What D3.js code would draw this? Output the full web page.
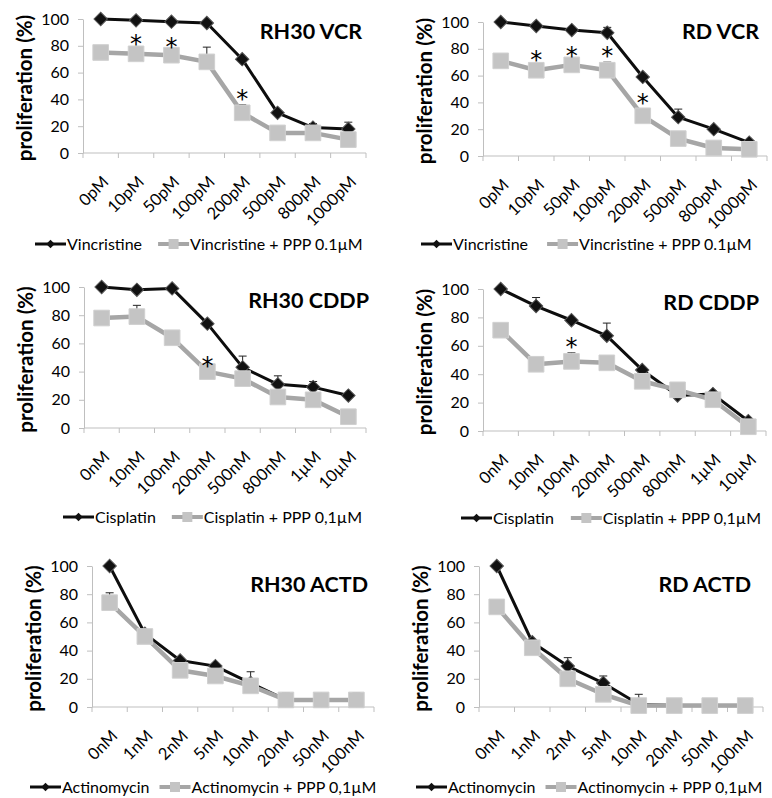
<!DOCTYPE html>
<html>
<head>
<meta charset="utf-8">
<script src="https://cdn.jsdelivr.net/npm/d3@7"></script>
<style>
  body { margin: 0; background: #fff; }
  svg { display: block; font-family: Lato, "Open Sans", sans-serif; }
</style>
</head>
<body>
<svg id="fig" width="772" height="798"></svg>
<script>
// dose labels
var vcrDoses = ["0pM", "10pM", "50pM", "100pM", "200pM", "500pM", "800pM", "1000pM"];
var cddpDoses = ["0nM", "10nM", "100nM", "200nM", "500nM", "800nM", "1µM", "10µM"];
var actdDoses = ["0nM", "1nM", "2nM", "5nM", "10nM", "20nM", "50nM", "100nM"];
var yTicks = [0, 20, 40, 60, 80, 100];

// RH30 VCR
var rh30Vcr = [100, 99, 98, 97, 70, 30, 19, 18];
var rh30VcrErr = [0, 0, 0, 0, 0, 0, 3, 5];
var rh30VcrPpp = [75, 74, 73, 68, 30, 15, 15, 10];
var rh30VcrPppErr = [0, 3, 2, 11, 6, 0, 0, 0];
var rh30VcrStars = ["10pM", "50pM", "200pM"];

// RD VCR
var rdVcr = [100, 97, 94, 92, 59, 29, 20, 10];
var rdVcrErr = [0, 0, 0, 4, 0, 6, 0, 0];
var rdVcrPpp = [71, 64, 68, 64, 30, 13, 6, 5];
var rdVcrPppErr = [0, 3, 2, 6, 5, 0, 0, 0];
var rdVcrStars = ["10pM", "50pM", "100pM", "200pM"];

// RH30 CDDP
var rh30Cddp = [100, 98, 99, 74, 43, 31, 29, 23];
var rh30CddpErr = [0, 0, 0, 0, 8, 6, 4, 0];
var rh30CddpPpp = [78, 79, 64, 40, 35, 22, 20, 8];
var rh30CddpPppErr = [0, 8, 0, 0, 0, 0, 0, 0];
var rh30CddpStars = ["200nM"];

// RD CDDP
var rdCddp = [100, 88, 78, 67, 43, 25, 26, 7];
var rdCddpErr = [0, 6, 0, 9, 0, 0, 0, 0];
var rdCddpPpp = [71, 47, 49, 48, 35, 29, 22, 3];
var rdCddpPppErr = [0, 0, 6, 0, 0, 0, 0, 0];
var rdCddpStars = ["100nM"];

// RH30 ACTD
var rh30Actd = [100, 52, 33, 29, 17, 5, 5, 5];
var rh30ActdErr = [0, 0, 0, 0, 8, 5, 0, 5];
var rh30ActdPpp = [74, 50, 26, 22, 15, 5, 5, 5];
var rh30ActdPppErr = [7, 0, 0, 0, 0, 0, 0, 0];

// RD ACTD
var rdActd = [100, 46, 29, 17, 2, 1, 1, 1];
var rdActdErr = [0, 0, 6, 5, 7, 0, 0, 0];
var rdActdPpp = [71, 42, 20, 9, 1, 1, 1, 1];
var rdActdPppErr = [0, 0, 0, 0, 0, 0, 0, 0];

var panels = [
  { title: "RH30 VCR", doses: vcrDoses, drug: "Vincristine", ppp: "Vincristine + PPP 0.1µM",
    a: rh30Vcr, aErr: rh30VcrErr, b: rh30VcrPpp, bErr: rh30VcrPppErr, stars: rh30VcrStars,
    x0: 83, x1: 366, yTop: 19, yBot: 153, titleX: 362, titleY: 39, legX: 35, legY: 244, legGap: 16 },
  { title: "RD VCR", doses: vcrDoses, drug: "Vincristine", ppp: "Vincristine + PPP 0.1µM",
    a: rdVcr, aErr: rdVcrErr, b: rdVcrPpp, bErr: rdVcrPppErr, stars: rdVcrStars,
    x0: 483, x1: 767, yTop: 22, yBot: 156, titleX: 759, titleY: 39, legX: 421, legY: 244, legGap: 19 },
  { title: "RH30 CDDP", doses: cddpDoses, drug: "Cisplatin", ppp: "Cisplatin + PPP 0,1µM",
    a: rh30Cddp, aErr: rh30CddpErr, b: rh30CddpPpp, bErr: rh30CddpPppErr, stars: rh30CddpStars,
    x0: 84, x1: 366, yTop: 287, yBot: 428, titleX: 369, titleY: 308, legX: 63, legY: 517, legGap: 16 },
  { title: "RD CDDP", doses: cddpDoses, drug: "Cisplatin", ppp: "Cisplatin + PPP 0,1µM",
    a: rdCddp, aErr: rdCddpErr, b: rdCddpPpp, bErr: rdCddpPppErr, stars: rdCddpStars,
    x0: 483, x1: 766, yTop: 289, yBot: 431, titleX: 759, titleY: 310, legX: 461, legY: 518, legGap: 17 },
  { title: "RH30 ACTD", doses: actdDoses, drug: "Actinomycin", ppp: "Actinomycin + PPP 0,1µM",
    a: rh30Actd, aErr: rh30ActdErr, b: rh30ActdPpp, bErr: rh30ActdPppErr, stars: [],
    x0: 92, x1: 374, yTop: 566, yBot: 707, titleX: 368, titleY: 592, legX: 30, legY: 787, legGap: 10 },
  { title: "RD ACTD", doses: actdDoses, drug: "Actinomycin", ppp: "Actinomycin + PPP 0,1µM",
    a: rdActd, aErr: rdActdErr, b: rdActdPpp, bErr: rdActdPppErr, stars: [],
    x0: 479, x1: 763, yTop: 566, yBot: 707, titleX: 751, titleY: 592, legX: 416, legY: 787, legGap: 10 }
];

var axisColor = "#bfbfbf",
  blackLine = "#0d0d0d",
  grayLine = "#a6a6a6",
  grayFill = "#c4c4c4",
  textColor = "#000";

var svg = d3.select("#fig");
var diamond = d3.symbol().type(d3.symbolSquare).size(90);
var square = d3.symbol().type(d3.symbolSquare).size(245);

panels.forEach(function (p) {
  var g = svg.append("g");
  var x = d3.scaleBand().domain(p.doses).range([p.x0, p.x1]).padding(0);
  var y = d3.scaleLinear().domain([0, 100]).range([p.yBot, p.yTop]);
  var cx = function (d) { return x(d) + x.bandwidth() / 2; };

  // y axis
  var yAxis = g.append("g")
    .attr("transform", "translate(" + p.x0 + ",0)")
    .call(d3.axisLeft(y).tickValues(yTicks).tickSize(5).tickPadding(9).tickSizeOuter(0));
  yAxis.select(".domain").attr("stroke", axisColor);
  yAxis.selectAll(".tick line").attr("stroke", axisColor);
  yAxis.selectAll(".tick text").attr("font-size", 16).attr("fill", textColor)
    .attr("font-family", "Lato, sans-serif");

  // x axis, ticks sit on the category edges
  g.append("line")
    .attr("x1", p.x0).attr("x2", p.x1)
    .attr("y1", y(0)).attr("y2", y(0))
    .attr("stroke", axisColor);
  g.selectAll(".xtick")
    .data(p.doses.concat(["end"]))
    .enter().append("line")
    .attr("x1", function (d) { return d === "end" ? p.x1 : x(d); })
    .attr("x2", function (d) { return d === "end" ? p.x1 : x(d); })
    .attr("y1", y(0)).attr("y2", y(0) + 5)
    .attr("stroke", axisColor);
  g.selectAll(".xlab")
    .data(p.doses)
    .enter().append("text")
    .attr("transform", function (d) {
      return "translate(" + (cx(d) + 9) + "," + (y(0) + 30) + ") rotate(-45)";
    })
    .attr("text-anchor", "end")
    .attr("font-size", 16.5)
    .attr("fill", textColor)
    .text(function (d) { return d; });

  // y label
  g.append("text")
    .attr("transform", "translate(" + (p.x0 - 51) + "," + ((p.yTop + p.yBot) / 2 + 2) + ") rotate(-90)")
    .attr("text-anchor", "middle")
    .attr("font-size", 20.5)
    .attr("font-weight", "bold")
    .attr("fill", textColor)
    .text("proliferation (%)");

  // title
  g.append("text")
    .attr("x", p.titleX).attr("y", p.titleY)
    .attr("text-anchor", "end")
    .attr("font-size", 21.5)
    .attr("font-weight", "bold")
    .attr("fill", textColor)
    .text(p.title);

  var series = [
    { vals: p.a, errs: p.aErr, color: blackLine, width: 3 },
    { vals: p.b, errs: p.bErr, color: grayLine, width: 4.5 }
  ];

  // error bars, upper half only
  series.forEach(function (s) {
    var eb = g.selectAll(null)
      .data(p.doses.filter(function (d, i) { return s.errs[i] > 0; }))
      .enter().append("g");
    var top = function (d) { var i = p.doses.indexOf(d); return y(s.vals[i] + s.errs[i]); };
    eb.append("line")
      .attr("x1", cx).attr("x2", cx)
      .attr("y1", function (d) { return y(s.vals[p.doses.indexOf(d)]); })
      .attr("y2", top)
      .attr("stroke", "#222").attr("stroke-width", 1);
    eb.append("line")
      .attr("x1", function (d) { return cx(d) - 4; })
      .attr("x2", function (d) { return cx(d) + 4; })
      .attr("y1", top).attr("y2", top)
      .attr("stroke", "#222").attr("stroke-width", 1);
  });

  var line = d3.line()
    .x(function (d, i) { return cx(p.doses[i]); })
    .y(function (d) { return y(d); });

  series.forEach(function (s, k) {
    g.append("path")
      .attr("d", line(s.vals))
      .attr("fill", "none")
      .attr("stroke", s.color)
      .attr("stroke-width", s.width)
      .attr("stroke-linejoin", "round");
    g.selectAll(null)
      .data(s.vals)
      .enter().append("path")
      .attr("d", k === 0 ? diamond : square)
      .attr("transform", function (d, i) {
        return "translate(" + cx(p.doses[i]) + "," + y(d) + ")" + (k === 0 ? " rotate(45)" : "");
      })
      .attr("fill", k === 0 ? "#111" : grayFill)
      .attr("stroke", k === 0 ? "#555" : "#d0d0d0")
      .attr("stroke-width", 1);
  });

  // asterisks above the PPP series
  g.selectAll(".star")
    .data(p.stars)
    .enter().append("text")
    .attr("x", cx)
    .attr("y", function (d) {
      var i = p.doses.indexOf(d);
      return y(p.b[i] + p.bErr[i]) + 2;
    })
    .attr("text-anchor", "middle")
    .attr("font-family", "DejaVu Sans, sans-serif")
    .attr("font-size", 24)
    .attr("fill", textColor)
    .text("*");

  // legend
  var leg = g.append("g").attr("transform", "translate(" + p.legX + "," + p.legY + ")");
  leg.append("line").attr("x1", 0).attr("x2", 31).attr("stroke", blackLine).attr("stroke-width", 3);
  leg.append("path").attr("d", d3.symbol().type(d3.symbolSquare).size(36))
    .attr("transform", "translate(15.5,0) rotate(45)").attr("fill", "#111");
  var t1 = leg.append("text").attr("x", 32).attr("dy", "0.35em")
    .attr("font-size", 16).attr("fill", textColor).text(p.drug);
  var gx = 32 + t1.node().getComputedTextLength() + p.legGap;
  leg.append("line").attr("x1", gx).attr("x2", gx + 31).attr("stroke", grayLine).attr("stroke-width", 4);
  leg.append("path").attr("d", d3.symbol().type(d3.symbolSquare).size(100))
    .attr("transform", "translate(" + (gx + 15.5) + ",0)").attr("fill", grayFill);
  leg.append("text").attr("x", gx + 32).attr("dy", "0.35em")
    .attr("font-size", 16).attr("fill", textColor).text(p.ppp);
});
</script>
</body>
</html>
